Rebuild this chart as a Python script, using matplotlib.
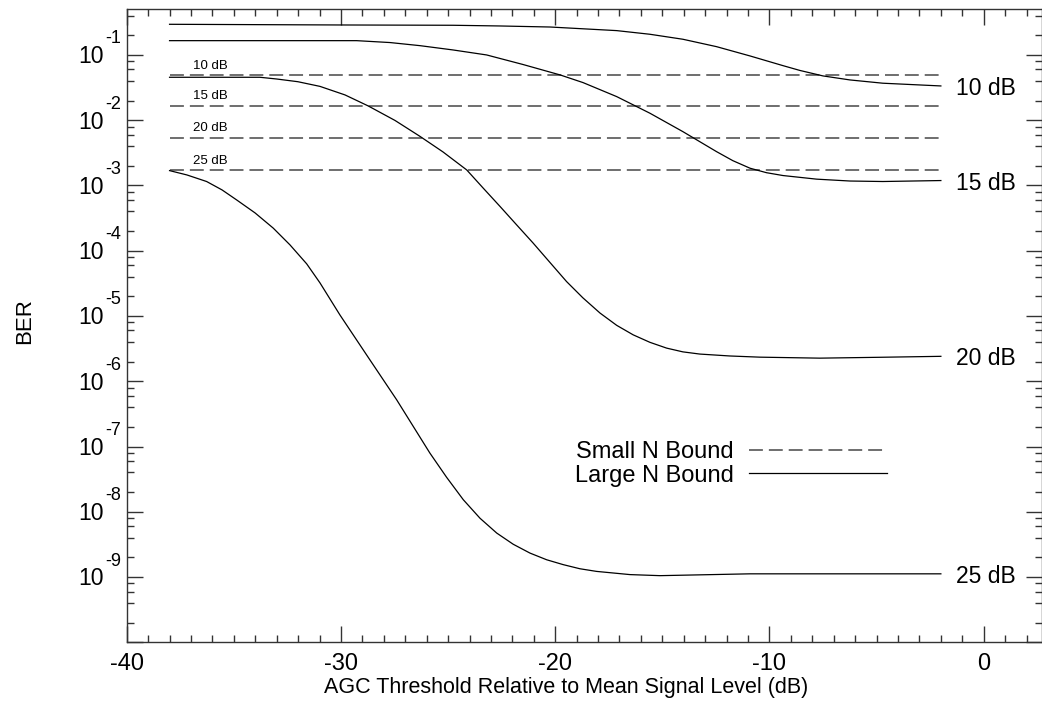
import numpy as np
import matplotlib.pyplot as plt
import matplotlib.transforms as mtransforms
from matplotlib.ticker import FixedLocator, MultipleLocator, NullFormatter

plt.rcParams['font.family'] = ['Liberation Sans', 'DejaVu Sans']
plt.rcParams['axes.unicode_minus'] = False
plt.rcParams['lines.scale_dashes'] = False

# large N bound (solid curves)
x_10db = [-38.0, -30.05, -24.77, -22.57, -20.24, -17.13, -15.58, -14.04, -12.47, -10.91, -9.37, -8.58,
          -7.50, -6.24, -4.71, -2.0]
ber_10db = [0.295, 0.288, 0.285, 0.278, 0.268, 0.236, 0.2075, 0.174, 0.134, 0.0966, 0.0686, 0.0579,
            0.0477, 0.0414, 0.0369, 0.0335]

x_15db = [-38.0, -29.27, -27.71, -26.31, -24.77, -23.20, -21.51, -19.77, -18.70, -17.13, -15.58, -14.04,
          -12.47, -11.71, -10.91, -10.14, -9.37, -7.80, -6.24, -4.71, -2.0]
ber_15db = [0.1656, 0.1656, 0.1549, 0.1388, 0.1193, 0.100, 0.0715, 0.0494, 0.0377, 0.0230, 0.0128, 6.68e-3,
            3.30e-3, 2.40e-3, 1.84e-3, 1.57e-3, 1.42e-3, 1.25e-3, 1.17e-3, 1.15e-3, 1.19e-3]

x_20db = [-38.0, -33.78, -33.00, -32.01, -30.98, -29.81, -28.73, -27.48, -26.31, -25.24, -24.13, -23.37,
          -22.57, -21.80, -21.03, -20.25, -19.47, -18.71, -17.91, -17.13, -16.36, -15.58, -14.80, -14.04,
          -13.25, -11.85, -10.45, -7.65, -4.85, -2.0]
ber_20db = [0.0455, 0.0455, 0.0428, 0.0389, 0.0330, 0.0244, 0.01656, 9.93e-3, 5.65e-3, 3.27e-3, 1.73e-3,
            9.18e-4, 4.75e-4, 2.49e-4, 1.31e-4, 6.64e-5, 3.37e-5, 1.90e-5, 1.11e-5, 7.19e-6, 5.14e-6,
            3.95e-6, 3.22e-6, 2.82e-6, 2.61e-6, 2.44e-6, 2.34e-6, 2.26e-6, 2.33e-6, 2.41e-6]

x_25db = [-38.0, -37.19, -36.27, -35.55, -34.87, -34.01, -33.16, -32.38, -31.60, -30.98, -30.05, -28.65,
          -27.40, -25.85, -25.07, -24.29, -23.51, -22.73, -21.96, -21.18, -20.40, -19.63, -18.85, -18.07,
          -16.51, -15.11, -10.91, -2.0]
ber_25db = [1.69e-3, 1.45e-3, 1.15e-3, 8.55e-4, 6.01e-4, 3.80e-4, 2.22e-4, 1.23e-4, 6.30e-5, 3.22e-5,
            1.04e-5, 2.13e-6, 5.20e-7, 7.94e-8, 3.38e-8, 1.53e-8, 7.96e-9, 4.72e-9, 3.18e-9, 2.33e-9,
            1.84e-9, 1.55e-9, 1.34e-9, 1.22e-9, 1.09e-9, 1.05e-9, 1.12e-9, 1.12e-9]

# small N bound (dashed, flat)
small_x = [-38.0, -2.0]
small_ber = [0.0489, 0.0166, 5.42e-3, 1.71e-3]

snr_labels = ['10 dB', '15 dB', '20 dB', '25 dB']
y_exponents = [-1, -2, -3, -4, -5, -6, -7, -8, -9]

fig = plt.figure(figsize=(10.42, 7.02), dpi=100)
ax = fig.add_axes([126.7 / 1042, 1 - 642.3 / 702, (1042 - 126.7) / 1042, (642.3 - 9) / 702])

ax.set_yscale('log')
ax.set_xlim(-40, 2.72)
ax.set_ylim(1e-10, 0.506)

dash = (10, 4.3)
small_lines = []
for i, b in enumerate(small_ber):
    ln, = ax.plot(small_x, [b, b], color='#555555', lw=1.2, dashes=dash)
    small_lines.append(ln)
    ax.annotate(snr_labels[i], (-36.1, b), xytext=(0, 2.5), textcoords='offset points',
                ha='center', va='bottom', fontsize=9.5)

curves = [(x_10db, ber_10db), (x_15db, ber_15db), (x_20db, ber_20db), (x_25db, ber_25db)]
large_lines = []
for i, (xs, ys) in enumerate(curves):
    ln, = ax.plot(xs, ys, color='black', lw=0.9)
    large_lines.append(ln)
    ax.annotate(snr_labels[i], (xs[-1], ys[-1]), xytext=(11, 0), textcoords='offset points',
                ha='left', va='center_baseline', fontsize=16.5)

# ticks
ax.xaxis.set_major_locator(MultipleLocator(10))
ax.xaxis.set_minor_locator(MultipleLocator(1))
ax.yaxis.set_major_locator(FixedLocator([10.0 ** k for k in range(-10, 1)]))
ax.yaxis.set_minor_locator(FixedLocator([m * 10.0 ** k for k in range(-10, 0) for m in (2, 4, 6, 8)]))
ax.yaxis.set_major_formatter(NullFormatter())
ax.yaxis.set_minor_formatter(NullFormatter())
ax.tick_params(which='both', direction='in', top=True, right=True, color='#333333', width=1.0)
ax.tick_params(which='major', length=11.3, labelsize=17, pad=8)
ax.tick_params(which='minor', length=5.3)
for s in ax.spines.values():
    s.set_color('#333333')
    s.set_linewidth(1.0)

# y tick labels drawn as 10 with raised exponent
ytrans = ax.get_yaxis_transform()
base_tr = mtransforms.offset_copy(ytrans, fig=fig, x=-22.7, y=-8.3, units='dots')
sup_tr = mtransforms.offset_copy(ytrans, fig=fig, x=-21.0, y=11.5, units='dots')
for k in y_exponents:
    ax.text(0, 10.0 ** k, '10', transform=base_tr, ha='right', va='baseline', fontsize=16.5)
    ax.text(0, 10.0 ** k, str(k), transform=sup_tr, ha='left', va='baseline', fontsize=13)

ax.set_xlabel('AGC Threshold Relative to Mean Signal Level (dB)', fontsize=15.5)
ax.xaxis.label.set_va('center')
ax.xaxis.set_label_coords(0.48, -0.071)
ax.set_ylabel('BER', fontsize=16)
ax.yaxis.label.set_va('center')
ax.yaxis.set_label_coords(-0.112, 0.508)

leg = ax.legend([small_lines[0], large_lines[0]], ['Small N Bound', 'Large N Bound'],
                loc='center right', bbox_to_anchor=(0.8303, 0.282), frameon=False,
                markerfirst=False, fontsize=17, handlelength=5.83, handletextpad=0.64,
                labelspacing=0.07, borderpad=0, borderaxespad=0)

fig.savefig('out.png', dpi=100)
